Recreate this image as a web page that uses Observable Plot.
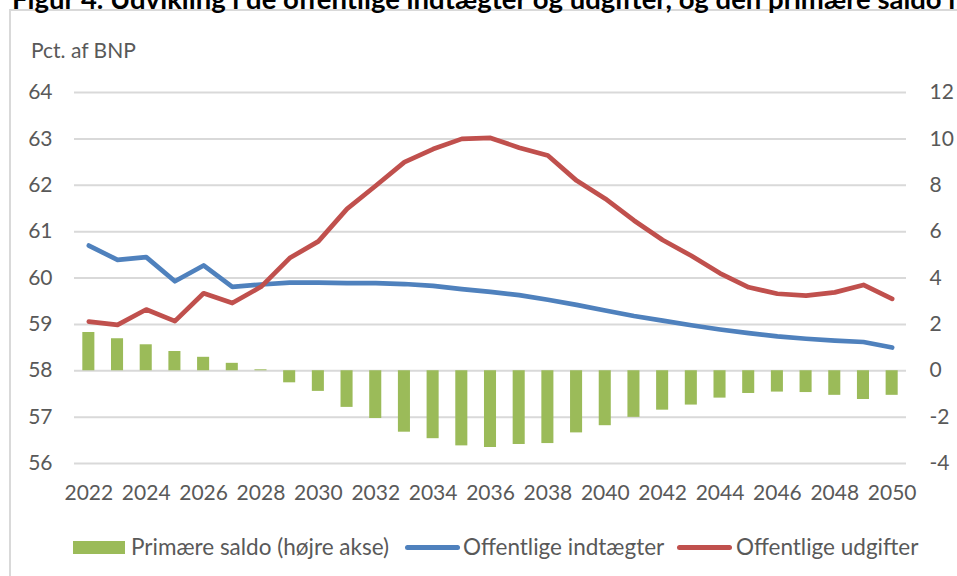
<!DOCTYPE html>
<html>
<head>
<meta charset="utf-8">
<script src="https://cdn.jsdelivr.net/npm/d3@7"></script>
<script src="https://cdn.jsdelivr.net/npm/@observablehq/plot@0.6"></script>
<style>
  html, body { margin: 0; padding: 0; background: #fff; }
  #wrap { position: relative; width: 957px; height: 576px; overflow: hidden; font-family: Lato, "Open Sans", sans-serif; color: #595959; }
  #title { position: absolute; left: 12px; top: -15px; font-size: 27.5px; line-height: 27px; font-weight: bold; color: #000; white-space: nowrap; }
  #frame { position: absolute; left: 9px; top: 9px; width: 1000px; height: 1000px; border-left: 2px solid #d9d9d9; border-top: 2px solid #d9d9d9; }
  #unit { position: absolute; left: 31px; top: 37px; font-size: 21px; }
  #chart { position: absolute; left: 0; top: 0; }
  .leg { position: absolute; top: 535px; font-size: 22.5px; line-height: 24px; white-space: nowrap; }
  .sw { position: absolute; }
</style>
</head>
<body>
<div id="wrap">
  <div id="frame"></div>
  <div id="title">Figur 4. Udvikling i de offentlige indtægter og udgifter, og den primære saldo i</div>
  <div id="unit">Pct. af BNP</div>
  <div id="chart"></div>
  <div class="sw" style="left:73px; top:541px; width:52px; height:13px; background:#9BBB59"></div>
  <div class="leg" style="left:131px">Primære saldo (højre akse)</div>
  <div class="sw" style="left:405px; top:545px; width:55px; height:5px; border-radius:3px; background:#4F81BD"></div>
  <div class="leg" style="left:463px">Offentlige indtægter</div>
  <div class="sw" style="left:677px; top:545px; width:55px; height:5px; border-radius:3px; background:#C0504D"></div>
  <div class="leg" style="left:736px">Offentlige udgifter</div>
</div>
<script>
const years = [2022,2023,2024,2025,2026,2027,2028,2029,2030,2031,2032,2033,2034,2035,2036,2037,2038,2039,2040,2041,2042,2043,2044,2045,2046,2047,2048,2049,2050];
const indtaegter = [60.70,60.39,60.45,59.93,60.27,59.81,59.86,59.90,59.90,59.89,59.89,59.87,59.83,59.76,59.70,59.63,59.53,59.42,59.30,59.18,59.08,58.98,58.89,58.81,58.74,58.69,58.65,58.62,58.50];
const udgifter = [59.06,58.99,59.32,59.07,59.67,59.46,59.81,60.43,60.79,61.49,61.99,62.50,62.78,63.00,63.02,62.81,62.64,62.10,61.71,61.24,60.82,60.48,60.10,59.80,59.66,59.62,59.69,59.85,59.55];
const saldo = [1.65,1.38,1.12,0.83,0.58,0.32,0.04,-0.52,-0.89,-1.58,-2.06,-2.65,-2.93,-3.24,-3.31,-3.18,-3.14,-2.68,-2.37,-2.01,-1.70,-1.48,-1.18,-0.98,-0.92,-0.94,-1.06,-1.24,-1.06];
const leftTicks = [56,57,58,59,60,61,62,63,64];
const rightTicks = [-4,-2,0,2,4,6,8,10,12];
const xTickYears = years.filter(y => y % 2 === 0);

// right axis: value r maps onto left axis as 58 + r/2
const toLeft = r => 58 + r / 2;
const data = years.map((year, i) => ({year, indt: indtaegter[i], udg: udgifter[i], saldo: saldo[i]}));

const chart = Plot.plot({
  width: 957,
  height: 520,
  marginTop: 92,
  marginBottom: 57,
  marginLeft: 74,
  marginRight: 51,
  style: {fontFamily: "Lato, 'Open Sans', sans-serif", fontSize: "21px", color: "#595959", background: "transparent", overflow: "visible"},
  x: {type: "band", domain: years, paddingInner: 0.58, paddingOuter: 0.29, round: false, label: null},
  y: {domain: [56, 64], label: null},
  marks: [
    Plot.gridY(leftTicks, {stroke: "#d9d9d9", strokeOpacity: 1, strokeWidth: 2}),
    Plot.barY(data, {x: "year", y1: () => toLeft(0), y2: d => toLeft(d.saldo), fill: "#9BBB59"}),
    Plot.lineY(data, {x: "year", y: "indt", stroke: "#4F81BD", strokeWidth: 4.7, strokeLinejoin: "round", strokeLinecap: "round"}),
    Plot.lineY(data, {x: "year", y: "udg", stroke: "#C0504D", strokeWidth: 4.7, strokeLinejoin: "round", strokeLinecap: "round"}),
    Plot.axisY(leftTicks, {anchor: "left", tickSize: 0, tickPadding: 22, tickFormat: d => String(d), fill: "#595959", fontSize: 21, label: null}),
    Plot.axisY(rightTicks.map(toLeft), {anchor: "right", tickSize: 0, tickPadding: 23, tickFormat: d => String((d - 58) * 2), fill: "#595959", fontSize: 21, label: null}),
    Plot.axisX(xTickYears, {anchor: "bottom", tickSize: 0, tickPadding: 22, tickFormat: d => String(d), fill: "#595959", fontSize: 21, label: null})
  ]
});
document.getElementById("chart").appendChild(chart);
</script>
</body>
</html>
